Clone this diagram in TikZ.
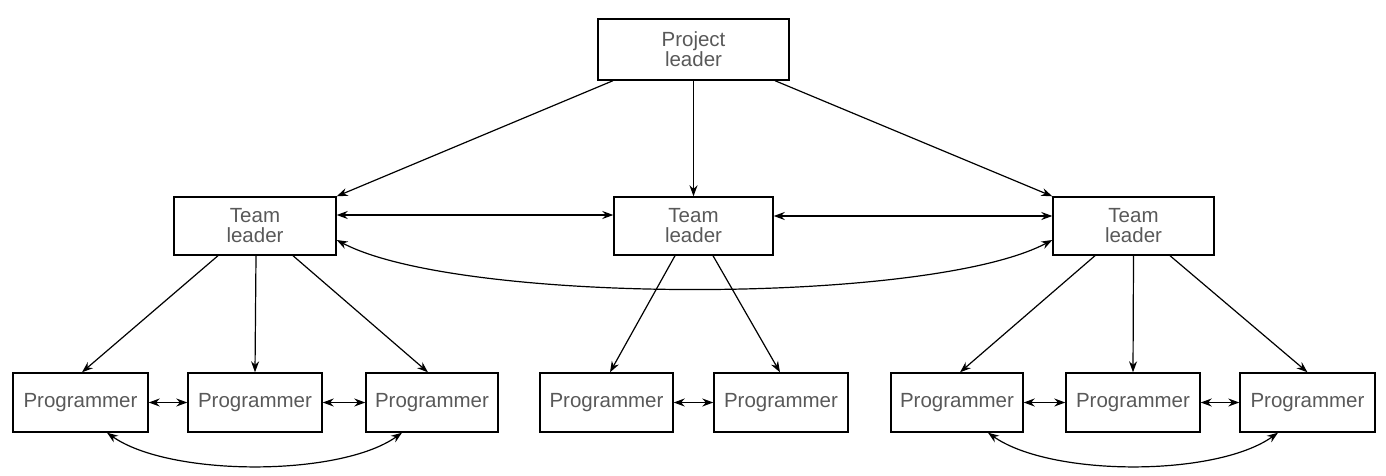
\documentclass[tikz,border=0pt]{standalone}
\usepackage{fontspec}
\setmainfont{Liberation Sans}
\usetikzlibrary{arrows.meta}
\begin{document}
\begin{tikzpicture}[x=1pt,y=-1pt,
  box/.style={draw=black,line width=1.4pt,rectangle,inner sep=0pt,minimum height=59pt,
    align=center,text=black!65,font=\fontsize{20.5}{20}\selectfont},
  conn/.style={draw=black,line width=1.2pt,-{Stealth[length=11pt,width=8pt]}},
  dconn/.style={draw=black,line width=1.2pt,{Stealth[length=11pt,width=8pt]}-{Stealth[length=11pt,width=8pt]}}]
\useasboundingbox (0,0) rectangle (1386,476);
\node[box,minimum width=191pt,minimum height=61pt] (PL) at (693.5,49.5) {Project\\leader};
\node[box,minimum width=162pt,minimum height=58pt] (TL1) at (255,226) {Team\\leader};
\node[box,minimum width=159pt,minimum height=58pt] (TL2) at (693.5,226) {Team\\leader};
\node[box,minimum width=161pt,minimum height=58pt] (TL3) at (1133.5,226) {Team\\leader};
\node[box,minimum width=135pt] (P1) at (80.5,402.5) {Programmer};
\node[box,minimum width=134pt] (P2) at (255,402.5) {Programmer};
\node[box,minimum width=132pt] (P3) at (432,402.5) {Programmer};
\node[box,minimum width=133pt] (P4) at (606.5,402.5) {Programmer};
\node[box,minimum width=134pt] (P5) at (781,402.5) {Programmer};
\node[box,minimum width=132pt] (P6) at (957,402.5) {Programmer};
\node[box,minimum width=134pt] (P7) at (1133,402.5) {Programmer};
\node[box,minimum width=135pt] (P8) at (1307.5,402.5) {Programmer};
% project leader to team leaders
\draw[conn] ([xshift=-80.5pt]PL.south) -- (TL1.north east);
\draw[conn] (PL.south) -- (TL2.north);
\draw[conn] ([xshift=81.5pt]PL.south) -- (TL3.north west);
% team leaders among themselves
\draw[dconn] ([yshift=11pt]TL1.east) -- ([yshift=11pt]TL2.west);
\draw[dconn] ([yshift=10pt]TL2.east) -- ([yshift=10pt]TL3.west);
\draw[dconn] ([yshift=-14pt]TL1.east) .. controls (460,305) and (930,305) .. ([yshift=-14pt]TL3.west);
% team leaders to programmers
\draw[conn] ([xshift=-37pt]TL1.south) -- ([xshift=1.5pt]P1.north);
\draw[conn] ([xshift=1pt]TL1.south) -- (P2.north);
\draw[conn] ([xshift=38pt]TL1.south) -- ([xshift=-4pt]P3.north);
\draw[conn] ([xshift=-18.5pt]TL2.south) -- ([xshift=3.5pt]P4.north);
\draw[conn] ([xshift=19.5pt]TL2.south) -- ([xshift=-1pt]P5.north);
\draw[conn] ([xshift=-38.5pt]TL3.south) -- ([xshift=3pt]P6.north);
\draw[conn] (TL3.south) -- (P7.north);
\draw[conn] ([xshift=36.5pt]TL3.south) -- (P8.north);
% programmers among themselves
\draw[dconn] (P1.east) -- (P2.west);
\draw[dconn] (P2.east) -- (P3.west);
\draw[dconn] (P4.east) -- (P5.west);
\draw[dconn] (P6.east) -- (P7.west);
\draw[dconn] (P7.east) -- (P8.west);
\draw[dconn] ([xshift=26.5pt]P1.south) .. controls (170,477) and (340,477) .. ([xshift=-30pt]P3.south);
\draw[dconn] ([xshift=31pt]P6.south) .. controls (1051,477) and (1216,477) .. ([xshift=-29.5pt]P8.south);
\end{tikzpicture}
\end{document}
